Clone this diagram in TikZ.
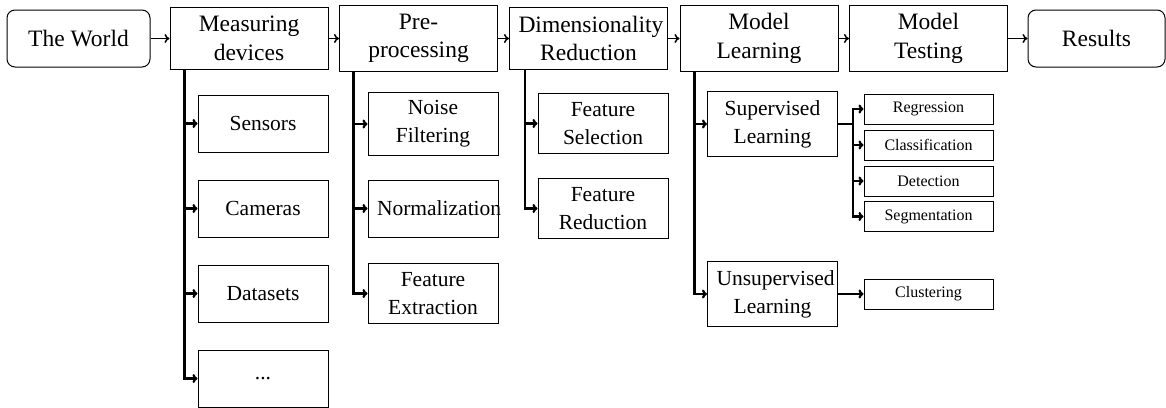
\documentclass[tikz,border=0pt]{standalone}
\usepackage{fontspec}
\setmainfont{Liberation Serif}
\usetikzlibrary{arrows.meta}
\begin{document}
\begin{tikzpicture}[x=1pt,y=-1pt,
  base/.style={draw, line width=1pt, align=center, inner xsep=9pt, inner ysep=8.5pt},
  topbox/.style={base, text width=140pt, font=\fontsize{23.5}{28.5}\selectfont},
  endbox/.style={draw, line width=1pt, rounded corners=8pt, minimum height=57pt,
                 font=\fontsize{23.5}{28.5}\selectfont},
  subbox/.style={base, text width=112pt, minimum height=57pt, font=\fontsize{21.5}{28}\selectfont},
  leafbox/.style={base, text width=111pt, inner ysep=0pt, minimum height=30pt,
                  font=\fontsize{16}{19}\selectfont},
  flow/.style={-{To[length=5pt,width=9pt]}, line width=1.5pt},
  branch/.style={-{To[length=5pt,width=9pt]}, line width=2.2pt},
]
\useasboundingbox (0,0) rectangle (1166,407);

% main pipeline
\node[endbox, minimum width=143pt] (world) at (78.5,38.5) {The World};
\node[topbox] (md)  at (249,38.5)   {Measuring\\devices};
\node[topbox] (pre) at (418.5,38.5) {Pre-\\processing};
\node[topbox] (dim) at (588.5,38.5) {Dimensionality\\Reduction};
\node[topbox] (ml)  at (759,38.5)   {Model\\Learning};
\node[topbox] (mt)  at (928.5,38.5) {Model\\Testing};
\node[endbox, minimum width=137pt] (res) at (1096.5,38.5) {Results};

% measuring devices
\node[subbox] (sensors)  at (263,123.5) {Sensors};
\node[subbox] (cameras)  at (263,208.5) {Cameras};
\node[subbox] (datasets) at (263,293.5) {Datasets};
\node[subbox] (more)     at (263,378.5) {...};

% pre-processing
\node[subbox] (noise) at (433,124)   {Noise\\Filtering};
\node[subbox] (norm)  at (433,208.5) {Normalization};
\node[subbox] (fext)  at (433,293.5) {Feature\\Extraction};

% dimensionality reduction
\node[subbox] (fsel) at (603,123.5) {Feature\\Selection};
\node[subbox] (fred) at (603,208.5) {Feature\\Reduction};

% model learning
\node[subbox] (sup)   at (772.5,124) {Supervised\\Learning};
\node[subbox] (unsup) at (772.5,294) {Unsupervised\\Learning};

\node[leafbox] (reg) at (928.5,109)   {Regression};
\node[leafbox] (cls) at (928.5,145)   {Classification};
\node[leafbox] (det) at (928.5,181)   {Detection};
\node[leafbox] (seg) at (928.5,216.5) {Segmentation};
\node[leafbox] (clu) at (928.5,294)   {Clustering};

% connectors
\draw[flow] (world) -- (md);
\draw[flow] (md) -- (pre);
\draw[flow] (pre) -- (dim);
\draw[flow] (dim) -- (ml);
\draw[flow] (ml) -- (mt);
\draw[flow] (mt) -- (res);

\foreach \c in {sensors,cameras,datasets,more}
  \draw[branch] ([xshift=15pt]md.south west) |- (\c.west);
\foreach \c in {noise,norm,fext}
  \draw[branch] ([xshift=14.5pt]pre.south west) |- (\c.west);
\foreach \c in {fsel,fred}
  \draw[branch] ([xshift=16pt]dim.south west) |- (\c.west);
\foreach \c in {sup,unsup}
  \draw[branch] ([xshift=15pt]ml.south west) |- (\c.west);
\foreach \c in {reg,cls,det,seg}
  \draw[branch] (sup.east) -- ++(15,0) |- (\c.west);
\draw[branch] (unsup) -- (clu);
\end{tikzpicture}
\end{document}
